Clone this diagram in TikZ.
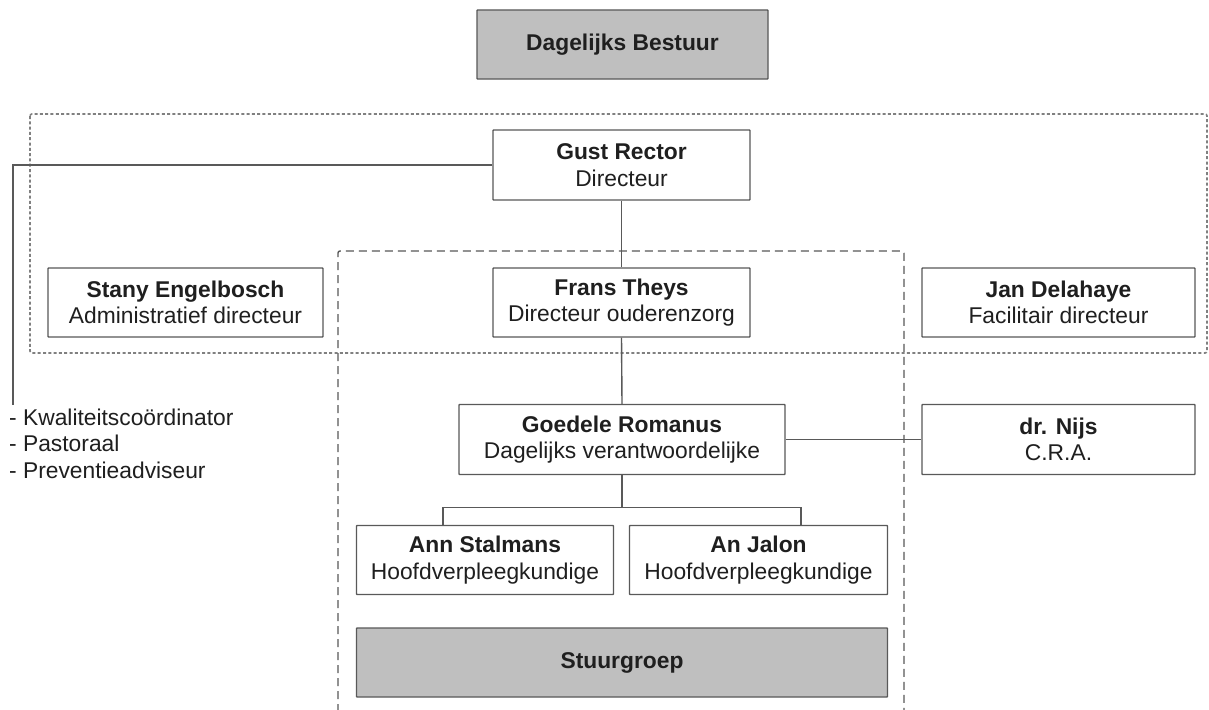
\documentclass[tikz,border=0pt]{standalone}
\usepackage{fontspec}
\setmainfont{Liberation Sans}
\begin{document}
\begin{tikzpicture}[x=1pt,y=-1pt,
  boxline/.style={draw=black!65, line width=1.4pt},
  orgbox/.style={boxline, fill=white, inner sep=0pt, align=center, text=black!88,
    font=\fontsize{22.8}{26.5}\selectfont, rounded corners=0.6pt},
  greybox/.style={orgbox, fill=black!25},
  conn/.style={draw=black!65, line width=1.4pt},
  dottedframe/.style={draw=black!50, line width=1.6pt, dash pattern=on 3pt off 2.3pt, rounded corners=2pt},
  dashedframe/.style={draw=black!65, line width=1.4pt, dash pattern=on 8pt off 5pt, rounded corners=2pt},
  listtext/.style={anchor=base west, inner sep=0pt, text=black!88, font=\fontsize{22.8}{26.5}\selectfont}
]
\useasboundingbox (0,0) rectangle (1209,709);
\fill[white] (0,0) rectangle (1209,709);

% frames
\draw[dottedframe] (30,114) rectangle (1207,353);
\draw[dashedframe] (338,712) -- (338,251) -- (904,251) -- (904,712);

% boxes
\node[greybox, minimum width=291pt, minimum height=69pt] (db) at (622.5,44.5) {\textbf{Dagelijks Bestuur}};
\node[orgbox, minimum width=257pt, minimum height=70pt] (gust) at (621.5,165) {\textbf{Gust Rector}\\Directeur};
\node[orgbox, minimum width=275pt, minimum height=69pt] (stany) at (185.5,302.5) {\textbf{Stany Engelbosch}\\Administratief directeur};
\node[orgbox, minimum width=257pt, minimum height=69pt] (frans) at (621.5,302.5) {\textbf{Frans Theys}\\Directeur ouderenzorg};
\node[orgbox, minimum width=273pt, minimum height=69pt] (jan) at (1058.5,302.5) {\textbf{Jan Delahaye}\\Facilitair directeur};
\node[orgbox, minimum width=326pt, minimum height=70pt] (goed) at (622,439.5) {\textbf{Goedele Romanus}\\Dagelijks verantwoordelijke};
\node[orgbox, minimum width=273pt, minimum height=70pt] (nijs) at (1058.5,439.5) {\textbf{dr. Nijs}\\C.R.A.};
\node[orgbox, minimum width=257pt, minimum height=69pt] (ann) at (485,560) {\textbf{Ann Stalmans}\\Hoofdverpleegkundige};
\node[orgbox, minimum width=258pt, minimum height=69pt] (jalon) at (758.5,560) {\textbf{An Jalon}\\Hoofdverpleegkundige};
\node[greybox, minimum width=531pt, minimum height=69pt] (stuur) at (622,662.5) {\textbf{Stuurgroep}};

% list
\coordinate (listtop) at (13,405);
\node[listtext] (l1) at (9,425) {- Kwaliteitscoördinator};
\node[listtext] (l2) at (9,451.5) {- Pastoraal};
\node[listtext] (l3) at (9,478) {- Preventieadviseur};

% connectors
\draw[conn] (gust.south) -- (frans.north);
\draw[conn] (frans.south) -- (goed.north);
\draw[conn] (goed.east) -- (nijs.west);
\draw[conn] (goed.south) -- ++(0,32) coordinate (fork);
\draw[conn] (ann.north -| 443,0) |- (fork) -| (ann.north -| 801,0);
\draw[conn] (gust.west) -| (listtop);
\end{tikzpicture}
\end{document}
